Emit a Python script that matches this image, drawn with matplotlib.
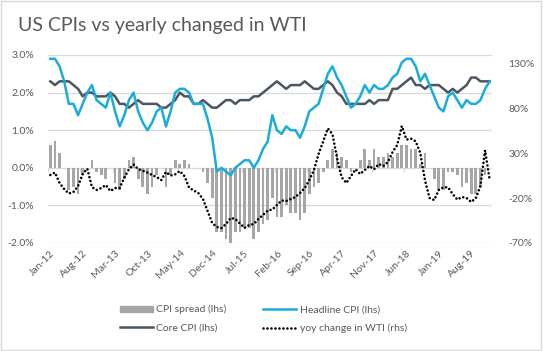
"""
US CPIs vs yearly change in WTI
"""

import numpy as np
import pandas as pd
import matplotlib
matplotlib.use("Agg")
import matplotlib.pyplot as plt
from matplotlib.patches import Rectangle
from matplotlib.lines import Line2D

# monthly data, Jan-12 .. Dec-19
months = pd.date_range("2012-01-01", "2019-12-01", freq="MS")

headline = [2.9, 2.9, 2.7, 2.3, 1.7, 1.7, 1.4, 1.7, 2.0, 2.2, 1.8, 1.7,
            1.6, 2.0, 1.5, 1.1, 1.4, 1.8, 2.0, 1.5, 1.2, 1.0, 1.2, 1.5,
            1.6, 1.1, 1.5, 2.0, 2.1, 2.1, 2.0, 1.7, 1.7, 1.7, 1.3, 0.8,
            -0.1, 0.0, -0.1, -0.2, 0.0, 0.1, 0.2, 0.2, 0.0, 0.2, 0.5, 0.7,
            1.4, 1.0, 0.9, 1.1, 1.0, 1.0, 0.8, 1.1, 1.5, 1.6, 1.7, 2.1,
            2.5, 2.7, 2.4, 2.2, 1.9, 1.6, 1.7, 1.9, 2.2, 2.0, 2.2, 2.1,
            2.1, 2.2, 2.4, 2.5, 2.8, 2.9, 2.9, 2.7, 2.3, 2.5, 2.2, 1.9,
            1.6, 1.5, 1.9, 2.0, 1.8, 1.6, 1.8, 1.7, 1.7, 1.8, 2.1, 2.3]

core = [2.3, 2.2, 2.3, 2.3, 2.3, 2.2, 2.1, 1.9, 2.0, 2.0, 1.9, 1.9,
        1.9, 2.0, 1.9, 1.7, 1.7, 1.6, 1.7, 1.8, 1.7, 1.7, 1.7, 1.7,
        1.6, 1.6, 1.7, 1.8, 2.0, 1.9, 1.9, 1.7, 1.7, 1.8, 1.7, 1.6,
        1.6, 1.7, 1.8, 1.8, 1.7, 1.8, 1.8, 1.8, 1.9, 1.9, 2.0, 2.1,
        2.2, 2.3, 2.2, 2.1, 2.2, 2.2, 2.2, 2.3, 2.2, 2.1, 2.1, 2.2,
        2.3, 2.2, 2.0, 1.9, 1.7, 1.7, 1.7, 1.7, 1.7, 1.8, 1.7, 1.8,
        1.8, 1.8, 2.1, 2.1, 2.2, 2.3, 2.4, 2.2, 2.2, 2.1, 2.2, 2.2,
        2.2, 2.1, 2.0, 2.1, 2.0, 2.1, 2.2, 2.4, 2.4, 2.3, 2.3, 2.3]

# yoy change in WTI, %
wti = [5.6, 8.3, -3.3, -10, -15, -13.3, -6.7, 6.7, 12.6, -7.8, -11.1, -8.9,
       -5.6, -12.2, -8.9, -8.9, 2.8, 11.9, 17.2, 12.2, 10.3, 8.3, 5.6, 3.3,
       0, 8.9, 5, 6.3, 10, 4.4, -8.3, -11.7, -14.4, -21.1, -34.4, -47.8,
       -52.2, -53.3, -48.9, -42.2, -43.3, -48.3, -53.3, -50, -48.9, -43.3, -38.9, -33.9,
       -32.8, -27.8, -22.8, -23.3, -21.1, -18.9, -14.4, -8.9, 0, 11, 29, 43,
       57.4, 51, 24.4, 3, -3.3, 4.4, 12, 6.7, 11.1, 15.6, 11.9, 17.8,
       15.6, 20, 31.1, 38.9, 60, 45, 46, 43, 30, 0, -20, -22.2,
       -11.1, -8.1, -8.1, -15.6, -21.7, -18.9, -20, -24.4, -20, -6.7, 33, 0]

spread = np.array(headline) - np.array(core)

left_ticks = [-2.0, -1.0, 0.0, 1.0, 2.0, 3.0]
right_ticks = [-70, -20, 30, 80, 130]
tick_step = 7

TEXT = "#595959"
GRID = "#D9D9D9"
BLUE = "#1AADDB"
DARK = "#4B5660"
BAR = "#A6A6A6"

plt.rcParams["font.family"] = ["Lato", "DejaVu Sans"]

fig = plt.figure(figsize=(5.43, 3.51), dpi=100)
ax = fig.add_axes([48 / 543, 1 - 243 / 351, 444 / 543, 188 / 351])
ax2 = ax.twinx()

x = np.arange(len(months))

ax.bar(x, spread, width=0.62, color=BAR, zorder=2)
ax.plot(x, headline, color=BLUE, lw=1.8, zorder=4, solid_joinstyle="round")
ax.plot(x, core, color=DARK, lw=1.8, zorder=3, solid_joinstyle="round")
ax2.plot(x, wti, color="black", lw=1.9, linestyle=(0, (0.01, 1.5)),
         dash_capstyle="round", zorder=5)

ax.set_xlim(-0.5, len(months) - 0.5)
ax.set_ylim(-2.0, 3.0)
ax2.set_ylim(-70, 139)

ax.set_yticks(left_ticks)
ax.set_yticklabels([f"{t:.1f}%" for t in left_ticks])
ax2.set_yticks(right_ticks)
ax2.set_yticklabels([f"{t}%" for t in right_ticks])

xt = x[::tick_step]
ax.set_xticks(xt)
ax.set_xticklabels([m.strftime("%b-%y") for m in months[::tick_step]],
                   rotation=45, ha="right", rotation_mode="anchor")

ax.grid(axis="y", color=GRID, lw=0.9, zorder=0)
ax.set_axisbelow(True)
# small tick marks on the zero line between categories
ax.vlines(xt - 0.5, -0.1, 0, color=GRID, lw=0.9, zorder=1)

for a in (ax, ax2):
    for s in a.spines.values():
        s.set_visible(False)
    a.tick_params(length=0, labelsize=7.5, labelcolor=TEXT)
ax.tick_params(axis="y", pad=10)
ax2.tick_params(axis="y", pad=12)
ax.tick_params(axis="x", pad=4)

fig.text(18 / 543, 1 - 26 / 351, "US CPIs vs yearly changed in WTI",
         fontsize=14, color=TEXT, va="center", ha="left")

handles = [
    Rectangle((0, 0), 1, 1, color=BAR),
    Line2D([], [], color=DARK, lw=1.8),
    Line2D([], [], color=BLUE, lw=1.8),
    Line2D([], [], color="black", lw=1.9, linestyle=(0, (0.01, 1.5)),
           dash_capstyle="round"),
]
labels = ["CPI spread (lhs)", "Core CPI (lhs)", "Headline CPI (lhs)",
          "yoy change in WTI (rhs)"]
leg = fig.legend(handles, labels, ncol=2, loc="center",
                 bbox_to_anchor=(0.485, 0.091), frameon=False,
                 fontsize=7.5, handlelength=3.2, handleheight=0.5,
                 columnspacing=3.5, labelspacing=0.9, handletextpad=0.3)
for t in leg.get_texts():
    t.set_color(TEXT)

fig.patches.append(Rectangle((0.002, 0.003), 0.995, 0.994, transform=fig.transFigure,
                             fill=False, edgecolor=GRID, lw=1.0))

fig.savefig("out.png", dpi=100)
